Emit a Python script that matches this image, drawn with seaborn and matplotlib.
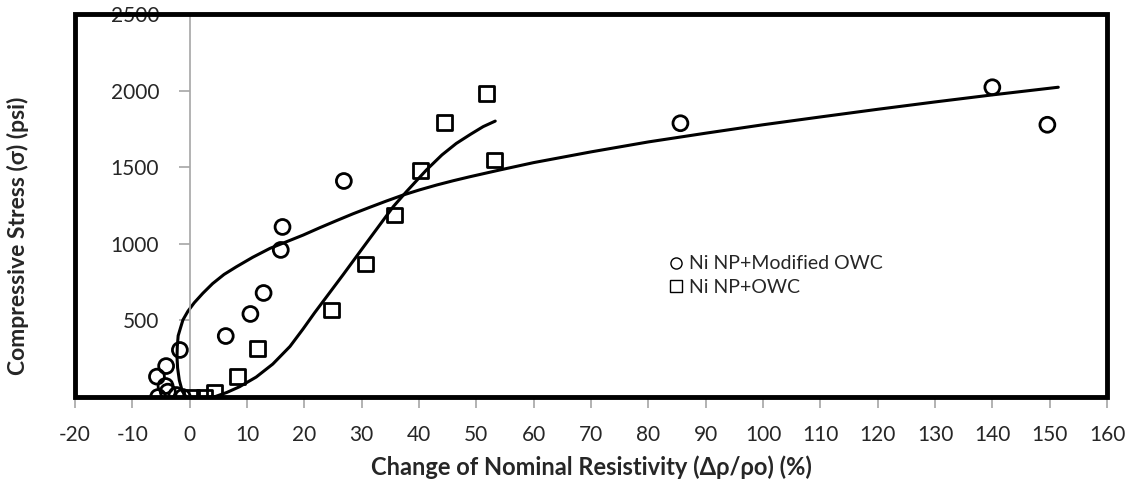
import numpy as np
import pandas as pd
import matplotlib
matplotlib.use("Agg")
import matplotlib.pyplot as plt
from matplotlib.patches import Rectangle
from matplotlib.lines import Line2D
import seaborn as sns

# Ni NP + Modified OWC (circles)
mod_x = [-5.5, -5.7, -4.1, -4.2, -3.8, -2.3, -1.2, -1.7, 6.3, 10.6, 12.9, 15.9, 16.2, 26.9, 85.6, 140.0, 149.6]
mod_y = [0, 133, 202, 72, 35, 13, 0, 307, 398, 542, 679, 960, 1110, 1410, 1787, 2022, 1777]

# Ni NP + OWC (squares)
owc_x = [0.3, 2.6, 4.4, 8.3, 11.9, 24.8, 30.7, 35.8, 40.3, 44.5, 51.7, 53.2]
owc_y = [0, 0, 30, 133, 318, 568, 868, 1188, 1477, 1790, 1982, 1547]

# trend curves
mod_fit_x = [-0.6, -1.3, -1.8, -2.1, -2.2, -2.15, -2.0, -1.6, -1.17, -0.3, 0.8, 2.3, 4.0,
             6.0, 8.15, 11.0, 14.0, 17.0, 19.8, 22.7, 25.6, 28.5, 31.4, 34.3, 37.2,
             40.1, 43.1, 46.0, 48.9, 54.1, 60, 70, 80, 90, 100, 110, 120, 130, 140, 151.5]
mod_fit_y = [0, 40, 110, 190, 260, 330, 400, 450, 503, 560, 615, 677, 740,
             800, 850, 912, 970, 1015, 1057, 1105, 1151, 1196, 1238, 1279, 1318,
             1352, 1384, 1412, 1438, 1482, 1530, 1600, 1665, 1722, 1777, 1828, 1878, 1926, 1972, 2022]
owc_fit_x = [0.3, 2.6, 4.4, 6.5, 8.7, 11.6, 14.5, 17.5, 19.8, 21.8, 23.9, 26.8, 29.7, 32.6,
             35.5, 37.8, 41.3, 44.0, 46.5, 49.0, 51.2, 53.3]
owc_fit_y = [-4, -3, 2, 30, 67, 130, 215, 330, 445, 550, 655, 800, 948, 1095,
             1242, 1340, 1482, 1580, 1655, 1715, 1765, 1801]

x_ticks = list(range(-20, 161, 10))
y_ticks = [500, 1000, 1500, 2000, 2500]

sns.set_theme(style="white")
plt.rcParams['font.family'] = ['Lato', 'DejaVu Sans']
plt.rcParams['axes.unicode_minus'] = False

fig = plt.figure(figsize=(11.34, 4.93), dpi=100)
ax = fig.add_axes([0.0661, 0.1947, 0.9101, 0.7769])

mod_fit = pd.DataFrame({'x': mod_fit_x, 'y': mod_fit_y})
owc_fit = pd.DataFrame({'x': owc_fit_x, 'y': owc_fit_y})
sns.lineplot(data=mod_fit, x='x', y='y', sort=False, estimator=None, color='black', lw=2.2, ax=ax)
sns.lineplot(data=owc_fit, x='x', y='y', sort=False, estimator=None, color='black', lw=2.2, ax=ax)

sns.scatterplot(x=mod_x, y=mod_y, marker='o', s=115, facecolor='none', edgecolor='black',
                linewidth=2, ax=ax, zorder=3)
sns.scatterplot(x=owc_x, y=owc_y, marker='s', s=115, facecolor='none', edgecolor='black',
                linewidth=2, ax=ax, zorder=3)

ax.set_xlim(-20, 160)
ax.set_ylim(0, 2500)
ax.set_xticks(x_ticks)
ax.set_yticks(y_ticks)

# Excel-style: vertical axis crosses at x = 0
for s in ['top', 'right']:
    ax.spines[s].set_visible(False)
ax.spines['left'].set_position(('data', 0))
ax.spines['left'].set_color('#a6a6a6')
ax.spines['left'].set_linewidth(1.2)
ax.spines['bottom'].set_color('#a6a6a6')
ax.spines['bottom'].set_linewidth(1.2)
ax.add_patch(Rectangle((0, 0), 1, 1, transform=ax.transAxes, fill=False,
                       edgecolor='black', lw=3.5, clip_on=False, zorder=5))

ax.tick_params(axis='both', which='both', direction='out', length=8, width=1.2,
               color='#a6a6a6', labelsize=15, labelcolor='#262626')
ax.tick_params(axis='y', pad=14)
ax.tick_params(axis='x', pad=12)
ax.tick_params(left=True, bottom=True)

ax.set_xlabel('Change of Nominal Resistivity (Δρ/ρo) (%)', fontsize=17, fontweight='bold', labelpad=8)
ax.set_ylabel('Compressive Stress (σ) (psi)', fontsize=16.5, fontweight='bold', labelpad=0)
ax.yaxis.set_label_coords(-0.045, 0.42)

handles = [
    Line2D([], [], marker='o', ls='none', markerfacecolor='none', markeredgecolor='black',
           markersize=8, markeredgewidth=1),
    Line2D([], [], marker='s', ls='none', markerfacecolor='none', markeredgecolor='black',
           markersize=8, markeredgewidth=1),
]
ax.legend(handles, ['Ni NP+Modified OWC', 'Ni NP+OWC'], loc='upper left',
          bbox_to_anchor=(0.565, 0.395), frameon=False, fontsize=14,
          handlelength=0.8, handletextpad=0.3, labelspacing=0.35, borderpad=0)

fig.savefig('out.png', dpi=100)
